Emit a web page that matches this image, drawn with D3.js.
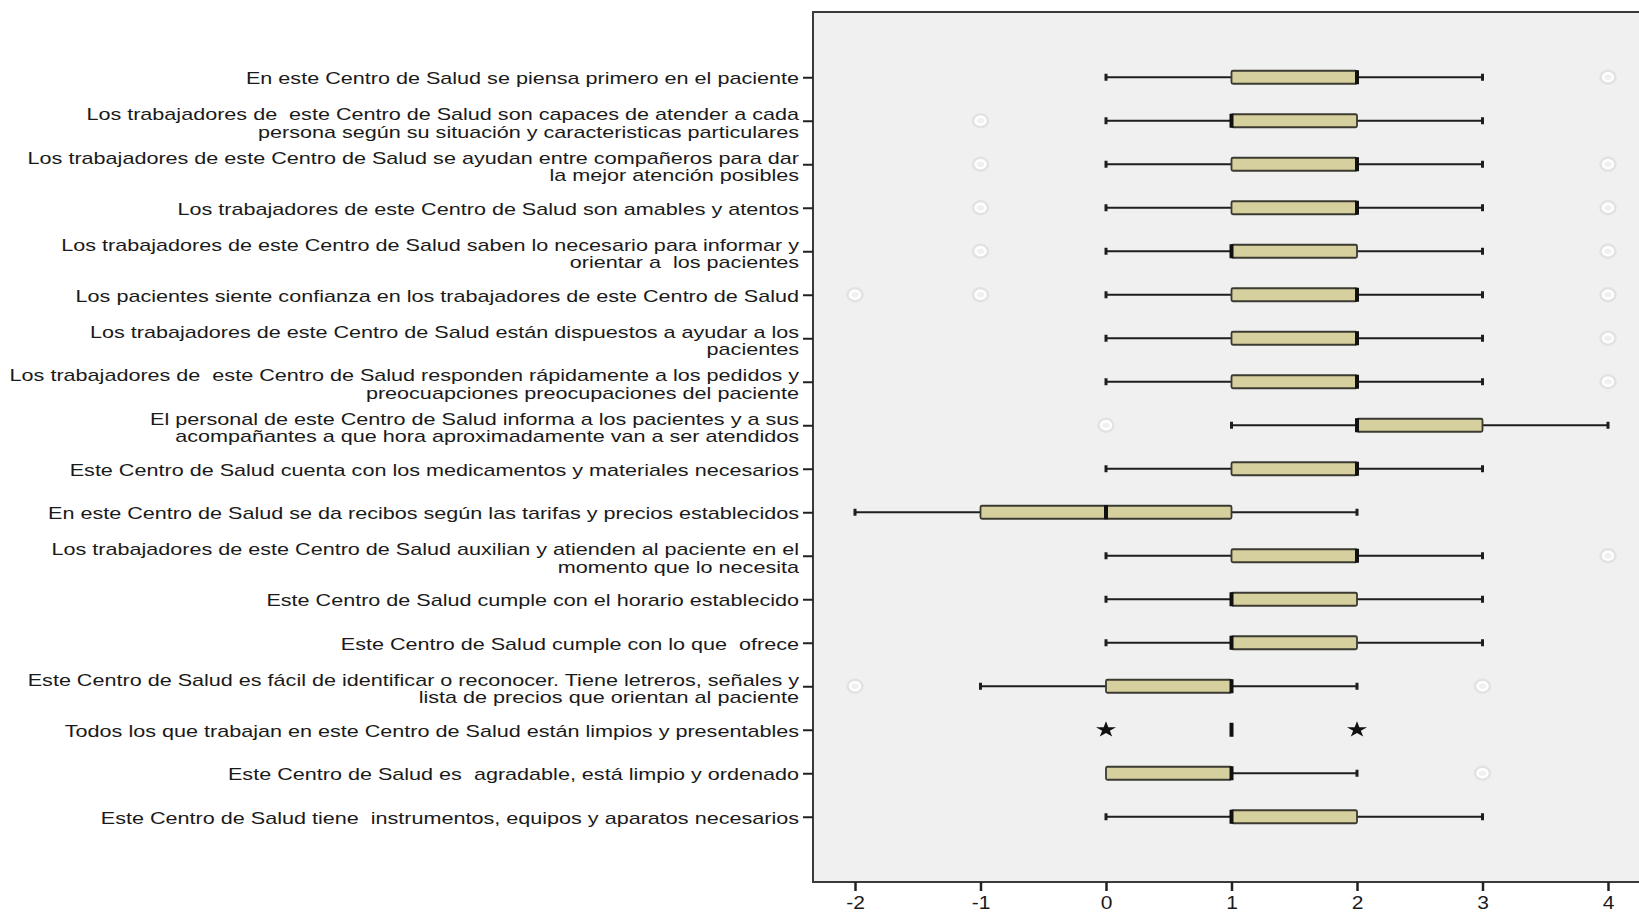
<!DOCTYPE html>
<html>
<head>
<meta charset="utf-8">
<script src="https://cdn.jsdelivr.net/npm/d3@7"></script>
<style>
  html, body { margin: 0; padding: 0; background: #ffffff; }
  svg { display: block; font-family: "Liberation Sans", Arial, sans-serif; }
  .lbl { white-space: pre; }
</style>
</head>
<body>
<svg id="chart" width="1639" height="912"></svg>
<script>
// Survey items (each entry: label lines)
const items = [
  ["En este Centro de Salud se piensa primero en el paciente"],
  ["Los trabajadores de  este Centro de Salud son capaces de atender a cada", "persona según su situación y caracteristicas particulares"],
  ["Los trabajadores de este Centro de Salud se ayudan entre compañeros para dar", "la mejor atención posibles"],
  ["Los trabajadores de este Centro de Salud son amables y atentos"],
  ["Los trabajadores de este Centro de Salud saben lo necesario para informar y", "orientar a  los pacientes"],
  ["Los pacientes siente confianza en los trabajadores de este Centro de Salud"],
  ["Los trabajadores de este Centro de Salud están dispuestos a ayudar a los", "pacientes"],
  ["Los trabajadores de  este Centro de Salud responden rápidamente a los pedidos y", "preocuapciones preocupaciones del paciente"],
  ["El personal de este Centro de Salud informa a los pacientes y a sus", "acompañantes a que hora aproximadamente van a ser atendidos"],
  ["Este Centro de Salud cuenta con los medicamentos y materiales necesarios"],
  ["En este Centro de Salud se da recibos según las tarifas y precios establecidos"],
  ["Los trabajadores de este Centro de Salud auxilian y atienden al paciente en el", "momento que lo necesita"],
  ["Este Centro de Salud cumple con el horario establecido"],
  ["Este Centro de Salud cumple con lo que  ofrece"],
  ["Este Centro de Salud es fácil de identificar o reconocer. Tiene letreros, señales y", "lista de precios que orientan al paciente"],
  ["Todos los que trabajan en este Centro de Salud están limpios y presentables"],
  ["Este Centro de Salud es  agradable, está limpio y ordenado"],
  ["Este Centro de Salud tiene  instrumentos, equipos y aparatos necesarios"]
];

// Five-number summaries per item
const whiskerLow  = [0, 0, 0, 0, 0, 0, 0, 0, 1, 0, -2, 0, 0, 0, -1, 1, 0, 0];
const q1          = [1, 1, 1, 1, 1, 1, 1, 1, 2, 1, -1, 1, 1, 1, 0, 1, 0, 1];
const median      = [2, 1, 2, 2, 1, 2, 2, 2, 2, 2, 0, 2, 1, 1, 1, 1, 1, 1];
const q3          = [2, 2, 2, 2, 2, 2, 2, 2, 3, 2, 1, 2, 2, 2, 1, 1, 1, 2];
const whiskerHigh = [3, 3, 3, 3, 3, 3, 3, 3, 4, 3, 2, 3, 3, 3, 2, 1, 2, 3];
// Outliers (circles) and extreme values (stars)
const outliers = [[4], [-1], [-1, 4], [-1, 4], [-1, 4], [-2, -1, 4], [4], [4], [0], [], [], [4], [], [], [-2, 3], [], [3], []];
const extremes = [[], [], [], [], [], [], [], [], [], [], [], [], [], [], [], [0, 2], [], []];

const xTicks = [-2, -1, 0, 1, 2, 3, 4];

const svg = d3.select("#chart");
const plot = { left: 813, top: 12, right: 1650, bottom: 882 };

const x = d3.scaleLinear().domain([-2, 4]).range([855, 1608]);
const y = d3.scalePoint().domain(d3.range(items.length)).range([plot.top, plot.bottom]).padding(1.5);

// plot background
svg.append("rect")
  .attr("x", plot.left).attr("y", plot.top)
  .attr("width", plot.right - plot.left).attr("height", plot.bottom - plot.top)
  .attr("fill", "#f0f0f0")
  .attr("stroke", "#3a3a3a").attr("stroke-width", 2);

// x axis
const xAxis = svg.append("g")
  .attr("transform", `translate(0,${plot.bottom})`)
  .call(d3.axisBottom(x).tickValues(xTicks).tickSize(9).tickPadding(6).tickFormat(d3.format("d")));
xAxis.select(".domain").remove();
xAxis.selectAll(".tick line").attr("stroke", "#222").attr("stroke-width", 2.5);
xAxis.selectAll(".tick text")
  .attr("fill", "#1a1a1a")
  .attr("font-size", 17.5)
  .attr("font-family", "Liberation Sans, Arial, sans-serif")
  .attr("transform", "scale(1.2,1)")
  .attr("x", 0);
xAxis.selectAll(".tick text").text(d => d < 0 ? "-" + Math.abs(d) : d);

// y axis ticks
const yAxis = svg.append("g")
  .attr("transform", `translate(${plot.left},0)`)
  .call(d3.axisLeft(y).tickSize(10).tickFormat(""));
yAxis.select(".domain").remove();
yAxis.selectAll(".tick line").attr("stroke", "#222").attr("stroke-width", 2);

// category labels
const labelX = 799;
const labels = svg.append("g");
items.forEach((lines, i) => {
  const cy = y(i);
  const base = lines.length === 1 ? cy + 7 : cy - 0.5;
  lines.forEach((ln, k) => {
    labels.append("text")
      .attr("class", "lbl")
      .attr("transform", `translate(${labelX},${base + k * 17.5}) scale(1.27,1)`)
      .attr("text-anchor", "end")
      .attr("font-size", 17)
      .attr("fill", "#1a1a1a")
      .text(ln);
  });
});

// boxplots
const boxH = 13;
const g = svg.append("g");
items.forEach((_, i) => {
  const cy = y(i);
  const row = g.append("g");
  const lo = whiskerLow[i], hi = whiskerHigh[i];
  if (lo < q1[i]) {
    row.append("line").attr("x1", x(lo)).attr("x2", x(q1[i])).attr("y1", cy).attr("y2", cy)
      .attr("stroke", "#1e1e1e").attr("stroke-width", 2.2);
    row.append("line").attr("x1", x(lo)).attr("x2", x(lo)).attr("y1", cy - 3.5).attr("y2", cy + 3.5)
      .attr("stroke", "#1e1e1e").attr("stroke-width", 3);
  }
  if (hi > q3[i]) {
    row.append("line").attr("x1", x(q3[i])).attr("x2", x(hi)).attr("y1", cy).attr("y2", cy)
      .attr("stroke", "#1e1e1e").attr("stroke-width", 2.2);
    row.append("line").attr("x1", x(hi)).attr("x2", x(hi)).attr("y1", cy - 3.5).attr("y2", cy + 3.5)
      .attr("stroke", "#1e1e1e").attr("stroke-width", 3);
  }
  if (q3[i] > q1[i]) {
    row.append("rect")
      .attr("x", x(q1[i])).attr("y", cy - boxH / 2)
      .attr("width", x(q3[i]) - x(q1[i])).attr("height", boxH)
      .attr("rx", 1.5)
      .attr("fill", "#d6cf9e").attr("stroke", "#3b3a30").attr("stroke-width", 1.8);
  }
  row.append("line")
    .attr("x1", x(median[i])).attr("x2", x(median[i]))
    .attr("y1", cy - boxH / 2 - 0.5).attr("y2", cy + boxH / 2 + 0.5)
    .attr("stroke", "#111").attr("stroke-width", 4);

  outliers[i].forEach(v => {
    row.append("ellipse").attr("cx", x(v)).attr("cy", cy).attr("rx", 6.5).attr("ry", 5.5)
      .attr("fill", "none").attr("stroke", "#e2e2e2").attr("stroke-width", 4.5);
    row.append("ellipse").attr("cx", x(v)).attr("cy", cy).attr("rx", 5).attr("ry", 4)
      .attr("fill", "none").attr("stroke", "#ffffff").attr("stroke-width", 2.5);
  });
  extremes[i].forEach(v => {
    row.append("path")
      .attr("d", d3.symbol().type(d3.symbolStar).size(80)())
      .attr("transform", `translate(${x(v)},${cy}) scale(1.25,1)`)
      .attr("fill", "#111");
  });
});
</script>
</body>
</html>
